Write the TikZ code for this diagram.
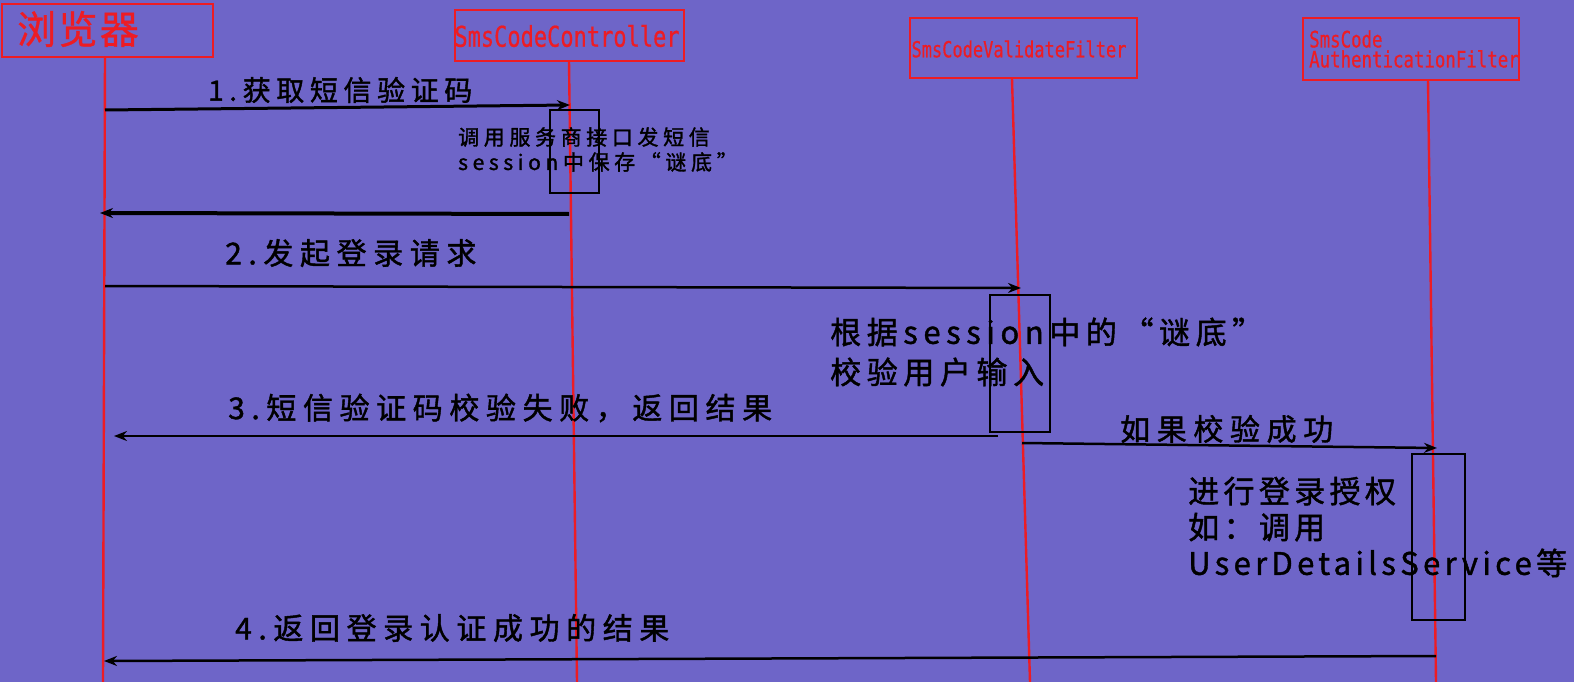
\documentclass[tikz,border=0pt]{standalone}
\usepackage{fontspec}
\newfontfamily\cjk{Noto Sans CJK SC}[FakeBold=1.4]
\newfontfamily\cjkh{Noto Sans CJK SC}[FakeBold=0.8]
\newfontfamily\monof{DejaVu Sans Mono}[FakeBold=0.6]
\usetikzlibrary{arrows.meta}
\definecolor{bg}{RGB}{110,101,200}
\definecolor{lred}{RGB}{237,28,36}
\begin{document}
\begin{tikzpicture}[x=1pt,y=-1pt,
  hdr/.style={draw=lred, line width=2pt, inner sep=0pt, rectangle},
  htext/.style={text=lred, inner sep=0pt},
  life/.style={draw=lred, line width=2.4pt},
  act/.style={draw=black, line width=1.8pt, inner sep=0pt, rectangle},
  msg/.style={draw=black, line width=2.5pt, -{Stealth[length=13pt,width=10pt]}},
  lbl/.style={text=black, inner sep=0pt, anchor=west, align=left},
  big/.style={font=\cjk\fontsize{30}{36}\selectfont\addfontfeature{LetterSpace=22}},
]
\fill[bg] (0,0) rectangle (1574,682);
\useasboundingbox (0,0) rectangle (1574,682);

% header boxes
\node[hdr, minimum width=211pt, minimum height=53pt] (b1) at (107.5,30.5) {};
\node[htext, anchor=west, font=\cjkh\fontsize{39}{42}\selectfont\addfontfeature{LetterSpace=6}] (t1) at (17,29) {浏览器};
\node[hdr, minimum width=229pt, minimum height=51pt] (b2) at (569.5,35.5) {};
\node[htext, font=\monof\fontsize{22}{26}\selectfont] (t2) at (567,36) {\scalebox{1}[1.3]{SmsCodeController}};
\node[hdr, minimum width=227pt, minimum height=60pt] (b3) at (1023.5,48) {};
\node[htext, font=\monof\fontsize{17}{20}\selectfont] (t3) at (1019,49) {\scalebox{1}[1.3]{SmsCodeValidateFilter}};
\node[hdr, minimum width=216pt, minimum height=62pt] (b4) at (1411,49) {};
\node[htext, anchor=west, align=left, font=\monof\fontsize{17.4}{20}\selectfont] (t4) at (1309,49) {\scalebox{1}[1.3]{SmsCode}\\\scalebox{1}[1.3]{AuthenticationFilter}};

% lifelines
\coordinate (l1t) at (105,57);   \coordinate (l1b) at (103,682);
\coordinate (l2t) at (569,61);   \coordinate (l2b) at (577,682);
\coordinate (l3t) at (1012,79);  \coordinate (l3b) at (1030,682);
\coordinate (l4t) at (1428,80);  \coordinate (l4b) at (1436,682);
\draw[life] (l1t) -- (l1b);
\draw[life] (l2t) -- (l2b);
\draw[life] (l3t) -- (l3b);
\draw[life] (l4t) -- (l4b);

% activation boxes
\node[act, minimum width=49pt, minimum height=83pt] (act1) at (574.5,151.5) {};
\node[act, minimum width=60pt, minimum height=137pt] (act2) at (1020,363.5) {};
\node[act, minimum width=53pt, minimum height=166pt] (act3) at (1438.5,537) {};

% message 1
\coordinate (m1s) at (105,110); \coordinate (m1e) at (570,105);
\draw[msg, line width=3pt] (m1s) -- (m1e);
\node[lbl, font=\cjk\fontsize{28}{34}\selectfont\addfontfeature{LetterSpace=20}] (L1) at (208,90) {1.获取短信验证码};
\node[lbl, font=\cjk\fontsize{21}{25}\selectfont\addfontfeature{LetterSpace=22}] (N1) at (458,149.5) {调用服务商接口发短信\\session中保存“谜底”};

% return 1
\coordinate (r1s) at (569,214); \coordinate (r1e) at (100,213);
\draw[msg, line width=4pt] (r1s) -- (r1e);

% message 2
\coordinate (m2s) at (105,286); \coordinate (m2e) at (1021,288);
\draw[msg] (m2s) -- (m2e);
\node[lbl, big] (L2) at (225,253) {2.发起登录请求};
\node[lbl, font=\cjk\fontsize{31}{40}\selectfont\addfontfeature{LetterSpace=18}] (N2) at (830,352) {根据session中的“谜底”\\校验用户输入};

% message 3
\coordinate (m3s) at (998,436); \coordinate (m3e) at (114,436);
\draw[msg] (m3s) -- (m3e);
\node[lbl, big] (L3) at (228,408) {3.短信验证码校验失败，返回结果};

% message success
\coordinate (m4s) at (1022,443); \coordinate (m4e) at (1437,448);
\draw[msg] (m4s) -- (m4e);
\node[lbl, big] (L4) at (1120,429) {如果校验成功};
\node[lbl, font=\cjk\fontsize{31}{36}\selectfont\addfontfeature{LetterSpace=14}] (N3) at (1188,527) {进行登录授权\\如：调用\\UserDetailsService等};

% message 4
\coordinate (m5s) at (1436,656); \coordinate (m5e) at (104,661);
\draw[msg] (m5s) -- (m5e);
\node[lbl, big] (L5) at (235,628) {4.返回登录认证成功的结果};
\end{tikzpicture}
\end{document}
